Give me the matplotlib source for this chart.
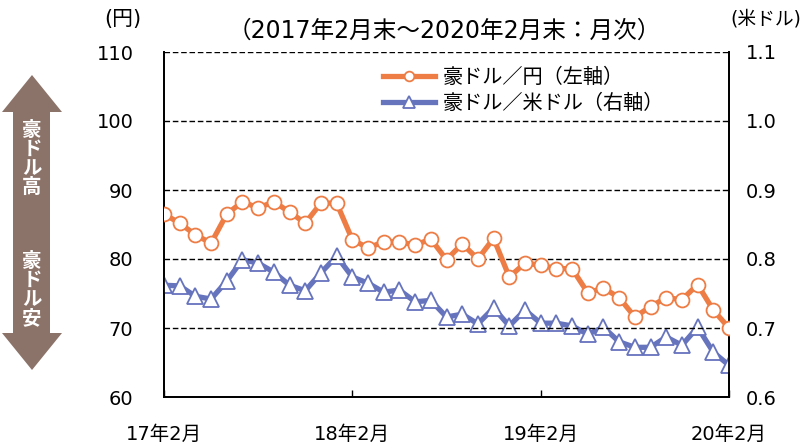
import matplotlib
matplotlib.use("Agg")
import matplotlib.pyplot as plt
from matplotlib.patches import Polygon

plt.rcParams['font.family'] = ['DejaVu Sans', 'Noto Sans CJK JP']

# 2017年2月末～2020年2月末（月次）
aud_jpy = [86.5, 85.2, 83.5, 82.3, 86.5, 88.3, 87.4, 88.3, 86.8, 85.2, 88.1, 88.1,
           82.8, 81.6, 82.5, 82.5, 82.0, 82.9, 79.9, 82.2, 80.0, 83.0, 77.4, 79.4,
           79.1, 78.6, 78.6, 75.1, 75.8, 74.4, 71.6, 73.1, 74.4, 74.1, 76.3, 72.6, 70.0]
aud_usd = [0.762, 0.761, 0.746, 0.742, 0.768, 0.799, 0.794, 0.781, 0.762, 0.754, 0.780, 0.804,
           0.774, 0.765, 0.752, 0.755, 0.738, 0.740, 0.716, 0.720, 0.706, 0.729, 0.703, 0.726,
           0.707, 0.707, 0.703, 0.691, 0.701, 0.680, 0.672, 0.672, 0.687, 0.675, 0.701, 0.665, 0.646]
xtick_pos = [0, 12, 24, 36]
xtick_labels = ['17年2月', '18年2月', '19年2月', '20年2月']
left_ticks = [60, 70, 80, 90, 100, 110]
right_ticks = [0.6, 0.7, 0.8, 0.9, 1.0, 1.1]

ORANGE = '#ED7D45'
BLUE = '#6673BD'
BROWN = '#8C7369'

W, H = 801, 448
fig = plt.figure(figsize=(W / 100, H / 100), dpi=100)
ax = fig.add_axes([164 / W, 1 - 397 / H, (729 - 164) / W, (397 - 52) / H])
ax2 = ax.twinx()

x = list(range(len(aud_jpy)))
l1, = ax.plot(x, aud_jpy, color=ORANGE, lw=3.8, marker='o', ms=10,
              mfc='white', mec=ORANGE, mew=1.3, label='豪ドル／円（左軸）', zorder=4)
l2, = ax2.plot(x, aud_usd, color=BLUE, lw=3.8, marker='^', ms=11.5,
               mfc='white', mec=BLUE, mew=1.3, label='豪ドル／米ドル（右軸）', zorder=3)

ax.set_xlim(0, 36)
ax.set_ylim(60, 110)
ax2.set_ylim(0.6, 1.1)
ax.set_yticks(left_ticks)
ax2.set_yticks(right_ticks)
ax.set_yticklabels([str(v) for v in left_ticks])
ax2.set_yticklabels([f'{v:.1f}' for v in right_ticks])
ax.set_xticks(xtick_pos)
ax.set_xticklabels(xtick_labels)

ax.tick_params(axis='x', direction='in', length=5, width=1, pad=20, labelsize=14)
ax.tick_params(axis='y', length=0, pad=22, labelsize=14)
ax2.tick_params(axis='y', length=0, pad=12, labelsize=14)

for a in (ax, ax2):
    a.spines['top'].set_visible(False)
    for s in ('left', 'right', 'bottom'):
        a.spines[s].set_linewidth(1.3)
ax.grid(axis='y', color='black', ls=(0, (4, 2)), lw=1)
ax.set_axisbelow(True)
ax.set_zorder(ax2.get_zorder() + 1)
ax.patch.set_visible(False)

fig.text(123 / W, 1 - 19 / H, '(円)', ha='center', va='center', fontsize=15)
fig.text(766 / W, 1 - 19 / H, '(米ドル)', ha='center', va='center', fontsize=13.5)
fig.text(444 / W, 1 - 31 / H, '（2017年2月末～2020年2月末：月次）',
         ha='center', va='center', fontsize=17)

leg = ax.legend(handles=[l1, l2], loc='upper left', bbox_to_anchor=(365 / W, 1 - 50 / H),
                bbox_transform=fig.transFigure, frameon=False, fontsize=14.5,
                handlelength=2.6, handletextpad=0.35, labelspacing=0.3, markerscale=0.7)

# 左側の矢印
pts = [(32, 75), (62, 112), (50, 112), (50, 333), (62, 333), (32, 370),
       (2, 333), (13, 333), (13, 112), (2, 112)]
arrow = Polygon([(px / W, 1 - py / H) for px, py in pts], closed=True,
                transform=fig.transFigure, facecolor=BROWN, edgecolor='none')
fig.patches.append(arrow)
fig.text(32 / W, 1 - 159 / H, '豪\nド\nル\n高', ha='center', va='center', color='white',
         fontsize=14, fontweight='bold', linespacing=1.0)
fig.text(32 / W, 1 - 290 / H, '豪\nド\nル\n安', ha='center', va='center', color='white',
         fontsize=14, fontweight='bold', linespacing=1.0)

fig.savefig('out.png', dpi=100)
